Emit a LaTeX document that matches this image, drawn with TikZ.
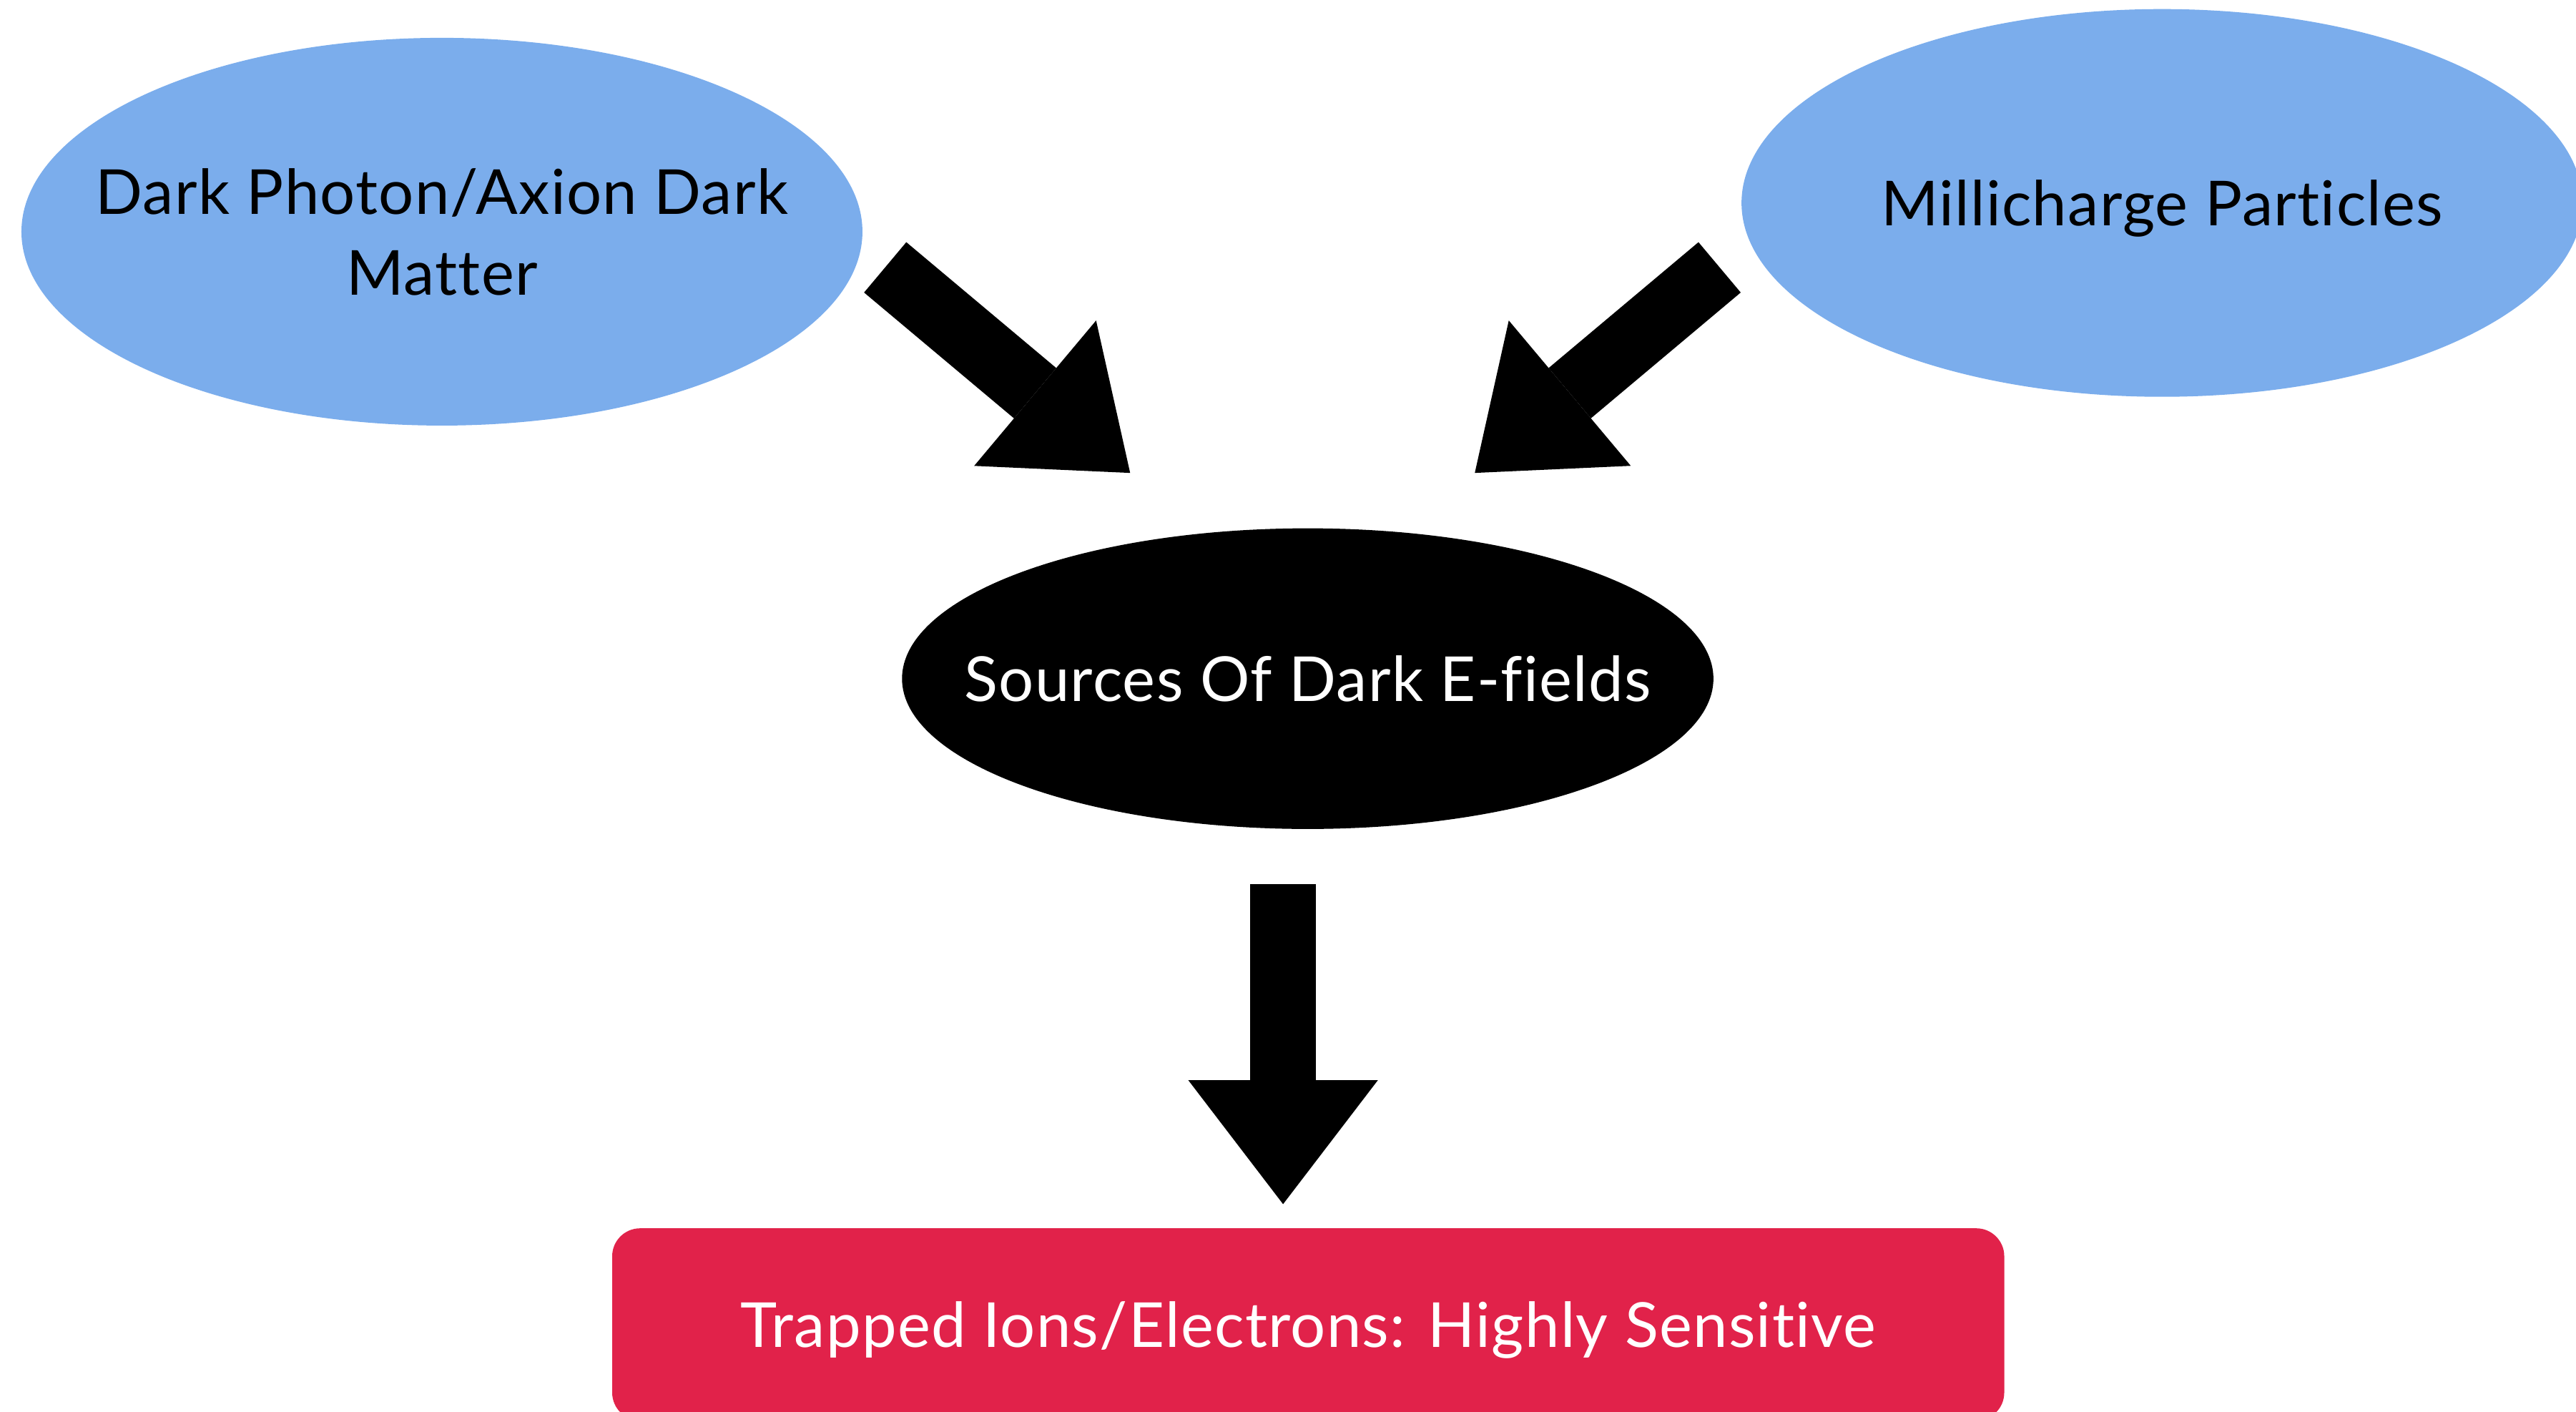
\documentclass[tikz,border=0pt]{standalone}
\usepackage{fontspec}
\newfontfamily\diagfont[Ligatures={NoCommon,NoRequired,NoContextual},LetterSpace=1.5]{Lato}
\usepackage{xcolor}
\usetikzlibrary{arrows.meta,shapes.geometric}
\definecolor{dmblue}{RGB}{123,173,236}
\definecolor{ionred}{RGB}{225,34,74}
\tikzset{
    dmellipse/.style={
        ellipse, fill=dmblue, align=center, inner xsep=-1cm, inner ysep=0pt,
        font=\diagfont\fontsize{21.5}{28}\selectfont, text=black, text depth=0pt,
        minimum width=10.24cm, minimum height=4.72cm},
    srcellipse/.style={dmellipse, fill=black, text=white,
        minimum width=9.88cm, minimum height=3.66cm},
    ionbox/.style={
        rectangle, fill=ionred, rounded corners=0.34cm, text=white,
        font=\diagfont\fontsize{21.5}{28}\selectfont, text depth=0pt,
        minimum width=16.95cm, minimum height=2.34cm},
    bigarrow/.style={
        line width=0.8cm,
        -{Triangle[length=1.51cm, width=2.31cm, line width=0pt]}},
}
\begin{document}
\begin{tikzpicture}[x=0.02cm, y=-0.02cm]
    \clip (0,0) rectangle (1568,859.3);

    % --- Dark matter candidates ---------------------------------------------------
    \node[dmellipse] (dp) at (269,141) {Dark Photon/Axion Dark\\Matter};
    \node[dmellipse] (mc) at (1316,123.5) {Millicharge Particles};

    % --- Dark E-fields ------------------------------------------------------------
    \node[srcellipse] (src) at (796,413) {Sources Of Dark E-fields};

    % --- Detector -----------------------------------------------------------------
    \node[ionbox] (ions) at (796.3,806) {Trapped Ions/Electrons: Highly Sensitive};

    % --- Arrow ends ---------------------------------------------------------------
    \coordinate (dp-out) at (538.8,162.7);
    \coordinate (mc-out) at (1046.7,162.7);
    \coordinate (src-inl) at (687.9,287.8);
    \coordinate (src-inr) at (897.7,287.8);
    \coordinate (src-out) at (781,538.1);
    \coordinate (ions-in) at (781,732.8);

    % --- Block arrows -------------------------------------------------------------
    \draw[bigarrow] (dp-out) -- (src-inl);
    \draw[bigarrow] (mc-out) -- (src-inr);
    \draw[bigarrow] (src-out) -- (ions-in);

\end{tikzpicture}
\end{document}
